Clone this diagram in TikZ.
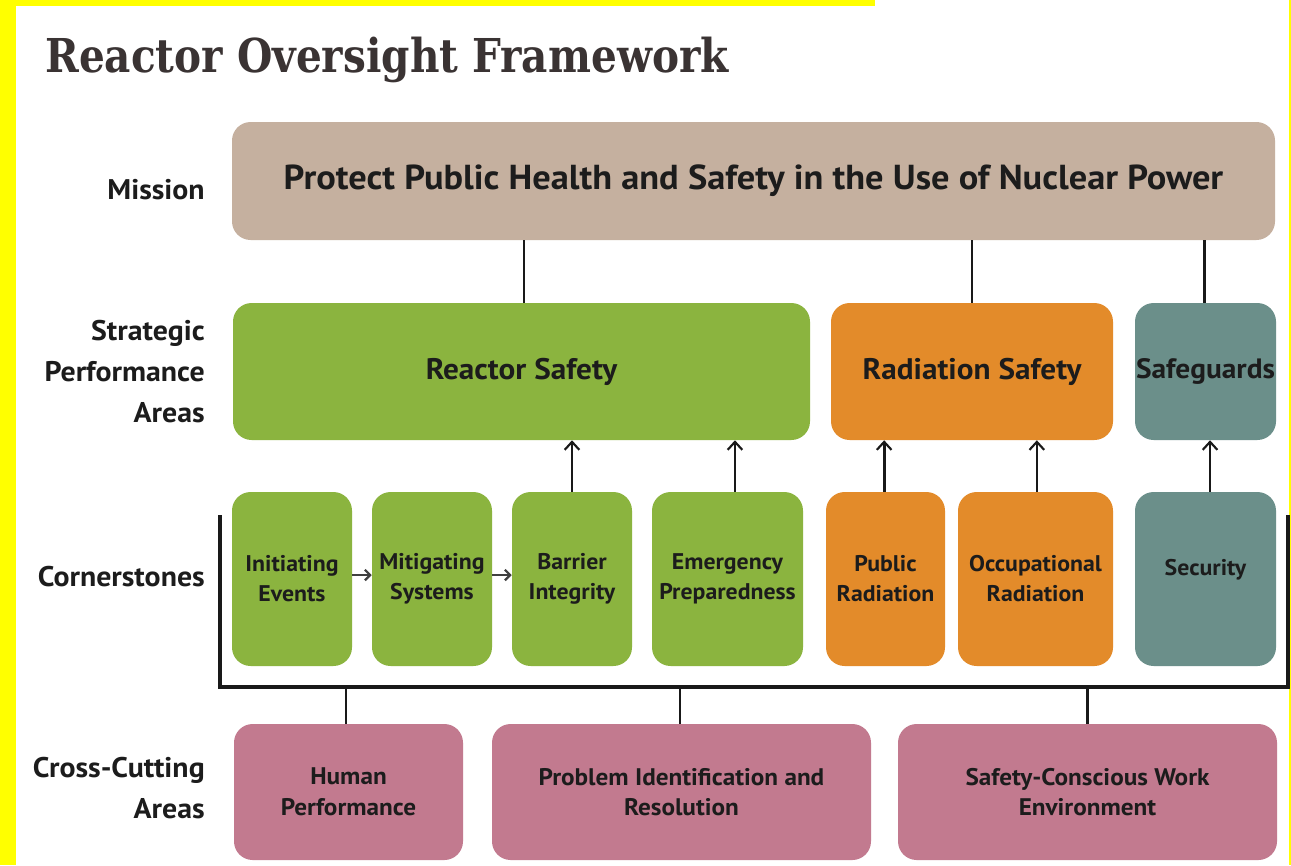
\documentclass[tikz,border=0pt]{standalone}
\usepackage{fontspec}
\setmainfont{PT Sans}
\newfontfamily\dinfont[FakeStretch=1.05]{PT Sans}
\newfontfamily\titlefont[FakeStretch=0.87]{DejaVu Serif}
\usetikzlibrary{arrows.meta}
\definecolor{yel}{HTML}{FFFF00}
\definecolor{tanc}{HTML}{C5B09F}
\definecolor{greenc}{HTML}{8BB43F}
\definecolor{orangec}{HTML}{E38B2A}
\definecolor{tealc}{HTML}{6B8F8A}
\definecolor{pinkc}{HTML}{C27A8F}
\definecolor{txt}{HTML}{1C1C1C}
\definecolor{titlec}{HTML}{3A3333}
\tikzset{
  box/.style={rounded corners=14pt, inner sep=0pt, align=center, text=txt,
    font=\dinfont\bfseries},
  spa/.style={box, minimum height=102.75pt, font=\dinfont\bfseries\fontsize{22.3}{26}\selectfont},
  cs/.style={box, minimum height=130.5pt, font=\dinfont\bfseries\fontsize{17}{22.5}\selectfont},
  cc/.style={box, fill=pinkc, minimum height=102pt, font=\dinfont\bfseries\fontsize{18}{23}\selectfont},
  lbl/.style={anchor=east, align=right, text=txt, inner sep=0pt,
    font=\dinfont\bfseries\fontsize{21.3}{30.75}\selectfont},
  conn/.style={draw=black!90, line width=2pt},
  uparrow/.style={conn, -{Straight Barb[length=6pt, width=11pt, line width=1.6pt]}},
  rarrow/.style={draw=black!75, line width=2pt, -{Straight Barb[length=4pt, width=8pt, line width=1.6pt]}},
}
\begin{document}
\begin{tikzpicture}[x=0.75pt, y=-0.75pt]
\useasboundingbox (0,0) rectangle (1291,865);
\fill[white] (0,0) rectangle (1291,865);
\fill[yel] (0,0) rectangle (875,6);
\fill[yel] (0,0) rectangle (16,865);
\fill[yel] (1289,0) rectangle (1291,865);

% title
\node[anchor=base west, inner sep=0pt, text=titlec, font=\titlefont\bfseries\fontsize{35}{40}\selectfont] (title) at (45,72) {Reactor Oversight Framework};

% mission
\node[box, fill=tanc, minimum width=782.25pt, minimum height=88.5pt,
  font=\dinfont\bfseries\fontsize{26}{30}\selectfont] (M) at (753.5,181)
  {\raisebox{3pt}{Protect Public Health and Safety in the Use of Nuclear Power}};

% strategic performance areas
\node[spa, fill=greenc, minimum width=432.75pt] (RS) at (521.5,371.5) {Reactor Safety};
\node[spa, fill=orangec, minimum width=211.5pt] (RaS) at (972,371.5) {Radiation Safety};
\node[spa, fill=tealc, text width=105.75pt, font=\dinfont\bfseries\fontsize{21}{26}\selectfont] (SG) at (1205.5,371.5) {Safeguards};

% cornerstones
\node[cs, fill=greenc, minimum width=90pt] (IE) at (292,579) {Initiating\\Events};
\node[cs, fill=greenc, minimum width=90pt] (MS) at (432,579) {Mitigating\\Systems};
\node[cs, fill=greenc, minimum width=90pt] (BI) at (572,579) {Barrier\\Integrity};
\node[cs, fill=greenc, minimum width=113.25pt] (EP) at (727.5,579) {Emergency\\Preparedness};
\node[cs, fill=orangec, minimum width=89.25pt] (PR) at (885.5,579) {Public\\Radiation};
\node[cs, fill=orangec, minimum width=116.25pt] (OR) at (1035.5,579) {Occupational\\Radiation};
\node[cs, fill=tealc, minimum width=105.75pt] (SE) at (1205.5,579) {\raisebox{2.5pt}[0pt][0pt]{Security}};

% cross-cutting areas
\node[cc, minimum width=171.75pt] (HP) at (348.5,792) {Human\\Performance};
\node[cc, minimum width=284.25pt] (PI) at (681.5,792) {Problem Identification and\\Resolution};
\node[cc, minimum width=284.25pt] (SC) at (1087.5,792) {Safety-Conscious Work\\Environment};

% row labels
\node[lbl] (lM) at (205,190) {Mission};
\node[lbl] (lS) at (205,372) {Strategic\\Performance\\Areas};
\node[lbl] (lC) at (205,577) {Cornerstones};
\node[lbl] (lX) at (205,788) {Cross-Cutting\\Areas};

% mission connectors
\draw[conn] ([xshift=1.9pt]RS.north) -- ([xshift=1.9pt]RS.north |- M.south);
\draw[conn] (RaS.north) -- (RaS.north |- M.south);
\draw[conn] ([xshift=-1pt]SG.north) -- ([xshift=-1pt]SG.north |- M.south);

% upward arrows
\draw[uparrow] (BI.north) -- (BI.north |- RS.south);
\draw[uparrow] ([xshift=5.6pt]EP.north) -- ([xshift=5.6pt]EP.north |- RS.south);
\draw[uparrow] ([xshift=-1pt]PR.north) -- ([xshift=-1pt]PR.north |- RaS.south);
\draw[uparrow] ([xshift=1pt]OR.north) -- ([xshift=1pt]OR.north |- RaS.south);
\draw[uparrow] ([xshift=3.4pt]SE.north) -- ([xshift=3.4pt]SE.north |- SG.south);

% chain arrows
\draw[rarrow] ([yshift=3pt]IE.east) -- ([yshift=3pt]MS.west);
\draw[rarrow] ([yshift=3pt]MS.east) -- ([yshift=3pt]BI.west);

% bracket
\coordinate (bl) at (220,515);
\coordinate (b1) at (220,687);
\coordinate (b2) at (1288,687);
\coordinate (br) at (1288,515);
\draw[conn, line width=2.4pt] (bl) -- (b1) -- (b2) -- (br);

% cross-cutting connectors
\draw[conn] ([xshift=-1.9pt]HP.north) -- ([xshift=-1.9pt]HP.north |- b1);
\draw[conn] ([xshift=-1.1pt]PI.north) -- ([xshift=-1.1pt]PI.north |- b1);
\draw[conn] (SC.north) -- (SC.north |- b1);
\end{tikzpicture}
\end{document}
